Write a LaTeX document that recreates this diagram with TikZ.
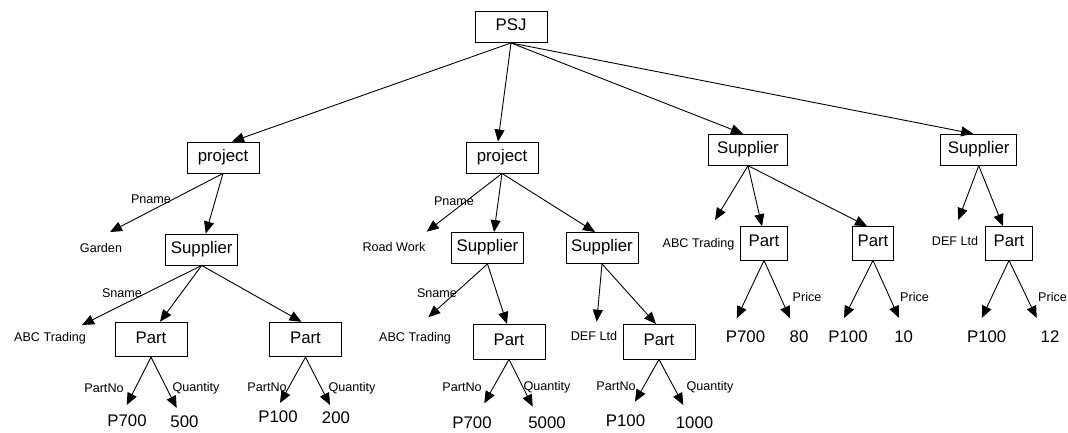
\documentclass[tikz,border=0pt]{standalone}
\usepackage{fontspec}
\setmainfont{Liberation Sans}
\usetikzlibrary{arrows.meta}
\begin{document}
\begin{tikzpicture}[x=1pt,y=-1pt,
  box/.style={draw,line width=0.9pt,inner sep=0pt,minimum width=72pt,minimum height=31pt,
    font=\fontsize{16.8}{18}\selectfont,text height=0.72em,text depth=0pt},
  partbox/.style={box,minimum height=34.5pt},
  val/.style={inner sep=0pt,font=\fontsize{16.8}{18}\selectfont,text height=0.72em,text depth=0pt},
  lbl/.style={inner sep=0pt,font=\fontsize{12.6}{14}\selectfont,text height=0.72em,text depth=0pt},
  arr/.style={line width=0.9pt,-{Triangle[length=12pt,width=10pt]}}]
\useasboundingbox (0,0) rectangle (1068,433);

% element boxes
\node[box] (psj) at (511,27) {PSJ};
\node[box] (p1) at (223,157.5) {project};
\node[box] (p2) at (502,157.5) {project};
\node[box,minimum width=79.4pt] (s3) at (748,149.7) {Supplier};
\node[box,minimum width=76pt] (s4) at (978.7,149.7) {Supplier};
\node[box] (s1) at (201.7,249.5) {Supplier};
\node[box] (s2a) at (487.5,248) {Supplier};
\node[box] (s2b) at (602,248) {Supplier};
\node[partbox] (pt1) at (151,339.5) {Part};
\node[partbox] (pt2) at (305.5,339.5) {Part};
\node[partbox] (pt3) at (509,341.7) {Part};
\node[partbox] (pt4) at (659,341.7) {Part};
\node[partbox,minimum width=46.7pt,minimum height=33.3pt] (pt5) at (764,243.3) {Part};
\node[partbox,minimum width=41.7pt,minimum height=33.3pt] (pt6) at (873,243.3) {Part};
\node[partbox,minimum width=46.3pt,minimum height=33.3pt] (pt7) at (1009,243.3) {Part};

% attribute values (small)
\node[lbl] (garden) at (101,249) {Garden};
\node[lbl] (road) at (394,248) {Road Work};
\node[lbl] (abc1) at (50,338) {ABC Trading};
\node[lbl] (abc2) at (415,338) {ABC Trading};
\node[lbl] (abc3) at (698.5,244) {ABC Trading};
\node[lbl] (def1) at (594,337) {DEF Ltd};
\node[lbl] (def2) at (955,242) {DEF Ltd};

% attribute values (large)
\node[val] (v1) at (127,423) {P700};
\node[val] (v2) at (184.5,424) {500};
\node[val] (v3) at (278,419) {P100};
\node[val] (v4) at (336,420) {200};
\node[val] (v5) at (472,425) {P700};
\node[val] (v6) at (547,425) {5000};
\node[val] (v7) at (625.5,422.7) {P100};
\node[val] (v8) at (694.5,425) {1000};
\node[val] (v9) at (745.5,339) {P700};
\node[val] (v10) at (799,339) {80};
\node[val] (v11) at (848,339) {P100};
\node[val] (v12) at (903.7,339) {10};
\node[val] (v13) at (986.7,339) {P100};
\node[val] (v14) at (1050,339) {12};

% edge labels
\node[lbl] (l1) at (151,200) {Pname};
\node[lbl] (l2) at (454,201.7) {Pname};
\node[lbl] (l3) at (122,294) {Sname};
\node[lbl] (l4) at (437,294) {Sname};
\node[lbl] (l5) at (104,389) {PartNo};
\node[lbl] (l6) at (196,388) {Quantity};
\node[lbl] (l7) at (267,388) {PartNo};
\node[lbl] (l8) at (352,388) {Quantity};
\node[lbl] (l9) at (462,388) {PartNo};
\node[lbl] (l10) at (547,387) {Quantity};
\node[lbl] (l11) at (616,387) {PartNo};
\node[lbl] (l12) at (710,387) {Quantity};
\node[lbl] (l13) at (807,298) {Price};
\node[lbl] (l14) at (914.5,298) {Price};
\node[lbl] (l15) at (1052.5,298) {Price};

% arrow ends above the value texts
\coordinate (garden-in) at (110,232);
\coordinate (road-in) at (426.7,231.7);
\coordinate (abc1-in) at (82,325);
\coordinate (abc2-in) at (428.3,317.3);
\coordinate (abc3-in) at (715,220);
\coordinate (def1-in) at (596.7,321.7);
\coordinate (def2-in) at (958.3,220);
\coordinate (v1-in) at (126.7,405);
\coordinate (v2-in) at (176.7,408);
\coordinate (v3-in) at (280,403);
\coordinate (v4-in) at (330,405);
\coordinate (v5-in) at (484.3,403.3);
\coordinate (v6-in) at (532.7,406.7);
\coordinate (v7-in) at (635,401.7);
\coordinate (v8-in) at (683.3,405);
\coordinate (v9-in) at (736.7,318.3);
\coordinate (v10-in) at (790,318.3);
\coordinate (v11-in) at (844,318);
\coordinate (v12-in) at (899,318);
\coordinate (v13-in) at (981.7,318);
\coordinate (v14-in) at (1036.7,318);

% root
\draw[arr] (psj.south) -- ([xshift=9pt]p1.north);
\draw[arr] (psj.south) -- ([xshift=-4pt]p2.north);
\draw[arr] (psj.south) -- ([xshift=-5pt]s3.north);
\draw[arr] (psj.south) -- ([xshift=-5.5pt]s4.north);

% first project
\draw[arr] (p1.south) -- (garden-in);
\draw[arr] (p1.south) -- ([xshift=4pt]s1.north);
\draw[arr] (s1.south) -- (abc1-in);
\draw[arr] (s1.south) -- ([xshift=9pt]pt1.north);
\draw[arr] (s1.south) -- ([xshift=-4pt]pt2.north);
\draw[arr] (pt1.south) -- (v1-in);
\draw[arr] (pt1.south) -- (v2-in);
\draw[arr] (pt2.south) -- (v3-in);
\draw[arr] (pt2.south) -- (v4-in);

% second project
\draw[arr] (p2.south) -- (road-in);
\draw[arr] (p2.south) -- ([xshift=6.5pt]s2a.north);
\draw[arr] (p2.south) -- ([xshift=-7pt]s2b.north);
\draw[arr] (s2a.south) -- (abc2-in);
\draw[arr] (s2a.south) -- ([xshift=-2pt]pt3.north);
\draw[arr] (s2b.south) -- (def1-in);
\draw[arr] (s2b.south) -- ([xshift=-3pt]pt4.north);
\draw[arr] (pt3.south) -- (v5-in);
\draw[arr] (pt3.south) -- (v6-in);
\draw[arr] (pt4.south) -- (v7-in);
\draw[arr] (pt4.south) -- (v8-in);

% suppliers
\draw[arr] (s3.south) -- (abc3-in);
\draw[arr] (s3.south) -- ([xshift=-2pt]pt5.north);
\draw[arr] (s3.south) -- ([xshift=-6pt]pt6.north);
\draw[arr] (s4.south) -- (def2-in);
\draw[arr] (s4.south) -- ([xshift=-6pt]pt7.north);
\draw[arr] (pt5.south) -- (v9-in);
\draw[arr] (pt5.south) -- (v10-in);
\draw[arr] (pt6.south) -- (v11-in);
\draw[arr] (pt6.south) -- (v12-in);
\draw[arr] (pt7.south) -- (v13-in);
\draw[arr] (pt7.south) -- (v14-in);
\end{tikzpicture}
\end{document}
